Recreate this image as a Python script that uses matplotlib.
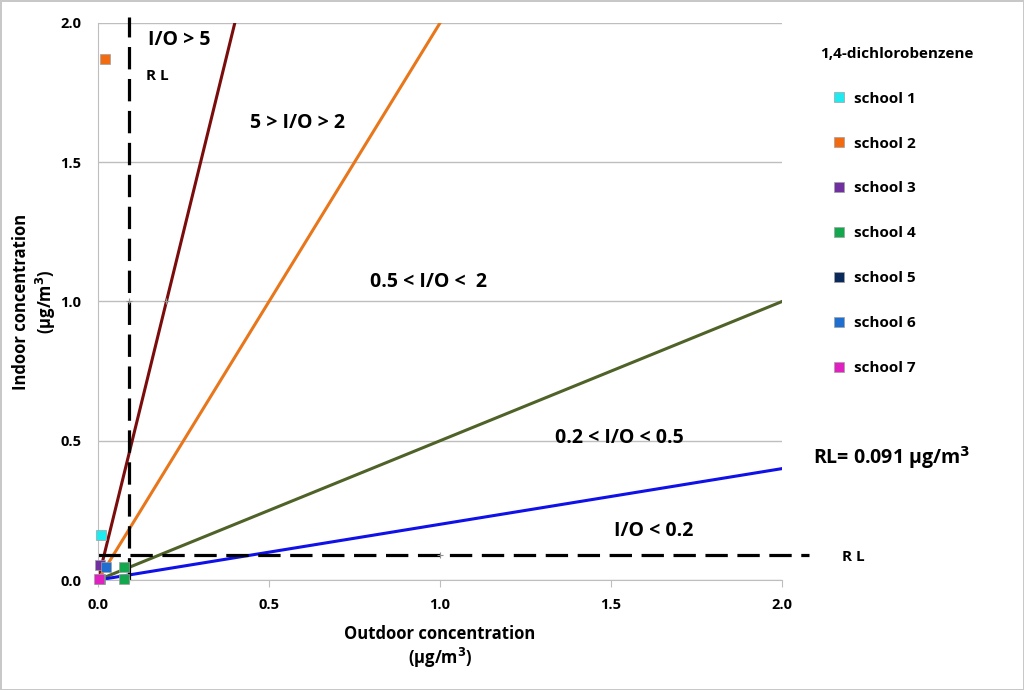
import numpy as np
from matplotlib import pyplot as plt
from matplotlib.lines import Line2D

plt.rcParams['font.family'] = ['Open Sans', 'DejaVu Sans']
plt.rcParams['font.weight'] = 'bold'

# school data (outdoor, indoor) in ug/m3
schools = ['school 1', 'school 2', 'school 3', 'school 4', 'school 5', 'school 6', 'school 7']
colors = ['#1EEAF0', '#F26B10', '#7030A0', '#13A84E', '#0A2A5C', '#1F6FD0', '#E020C0']
outdoor = [[0.01], [0.02], [0.006], [0.075, 0.075], [0.005], [0.024], [0.003]]
indoor = [[0.16], [1.87], [0.054], [0.045, 0.005], [0.005], [0.047], [0.003]]

# I/O ratio lines
ratios = [5, 2, 0.5, 0.2]
ratio_colors = ['#7B0C0C', '#E8761B', '#4F6228', '#1010E8']
rl = 0.091

fig = plt.figure(figsize=(10.24, 6.9), dpi=100)
fig.patch.set_edgecolor('#C8C8C8')
fig.patch.set_linewidth(2)
ax = fig.add_axes([0.0957, 0.1594, 0.668, 0.8073])

ax.set_xlim(0, 2.0)
ax.set_ylim(0, 2.0)
ax.set_xticks([0, 0.5, 1.0, 1.5, 2.0])
ax.set_yticks([0, 0.5, 1.0, 1.5, 2.0])
ax.xaxis.set_major_formatter(plt.FormatStrFormatter('%.1f'))
ax.yaxis.set_major_formatter(plt.FormatStrFormatter('%.1f'))
ax.grid(axis='y', color='#BEBEBE', lw=1)
ax.set_axisbelow(True)
for s in ['top', 'right']:
    ax.spines[s].set_visible(False)
for s in ['left', 'bottom']:
    ax.spines[s].set_color('#BEBEBE')
ax.tick_params(axis='x', colors='#BEBEBE', direction='out', length=5, labelcolor='black', labelsize=10.5, pad=8)
ax.tick_params(axis='y', length=0, labelcolor='black', labelsize=10.5, pad=12)

x = np.array([0, 2.0])
for r, c in zip(ratios, ratio_colors):
    ax.plot(x, r * x, color=c, lw=2.2)

# reporting limit lines
ax.plot([rl, rl], [0, 2.02], color='black', lw=2.3, dashes=(7, 3), clip_on=False)
ax.plot([0, 2.08], [rl, rl], color='black', lw=2.3, dashes=(7, 3), clip_on=False)
ax.plot([rl, 0.2, 1.0, rl], [1.0, 1.0, rl, 0.0], '+', color='#909090', ms=5, mew=0.8, clip_on=False)

for i in range(len(schools)):
    ax.plot(outdoor[i], indoor[i], 's', color=colors[i], ms=7, mec='#A0A0A0', mew=0.5,
            label=schools[i], clip_on=False, zorder=5)

tkw = dict(fontsize=14, fontweight='bold', va='center')
ax.text(0.145, 1.94, 'I/O > 5', **tkw)
ax.text(0.14, 1.81, 'R L', fontsize=11, fontweight='bold', va='center')
ax.text(0.445, 1.64, '5 > I/O > 2', **tkw)
ax.text(0.795, 1.07, '0.5 < I/O <  2', **tkw)
ax.text(1.336, 0.51, '0.2 < I/O < 0.5', **tkw)
ax.text(1.51, 0.176, 'I/O < 0.2', **tkw)
ax.text(2.09, 0.44, 'RL= 0.091 µg/m$^3$', **tkw, clip_on=False)
ax.text(2.175, 0.083, 'R L', fontsize=11, fontweight='bold', va='center', clip_on=False)

ax.set_xlabel('Outdoor concentration\n(µg/m$^3$)', fontsize=12, fontweight='bold', labelpad=9)
ax.set_ylabel('Indoor concentration\n(µg/m$^3$)', fontsize=12, fontweight='bold', labelpad=2)

handles = [Line2D([], [], marker='s', ls='none', color=c, mec='#A0A0A0', mew=0.5, ms=7) for c in colors]
leg = fig.legend(handles, schools, loc='upper left', bbox_to_anchor=(0.791, 0.952),
                 frameon=False, fontsize=11, labelspacing=2.02, handletextpad=-0.05,
                 title='1,4-dichlorobenzene', title_fontproperties={'weight': 'bold', 'size': 11})
leg._legend_box.align = 'left'
leg.get_title().set_position((-4, 0))

fig.savefig('out.png', dpi=100)
